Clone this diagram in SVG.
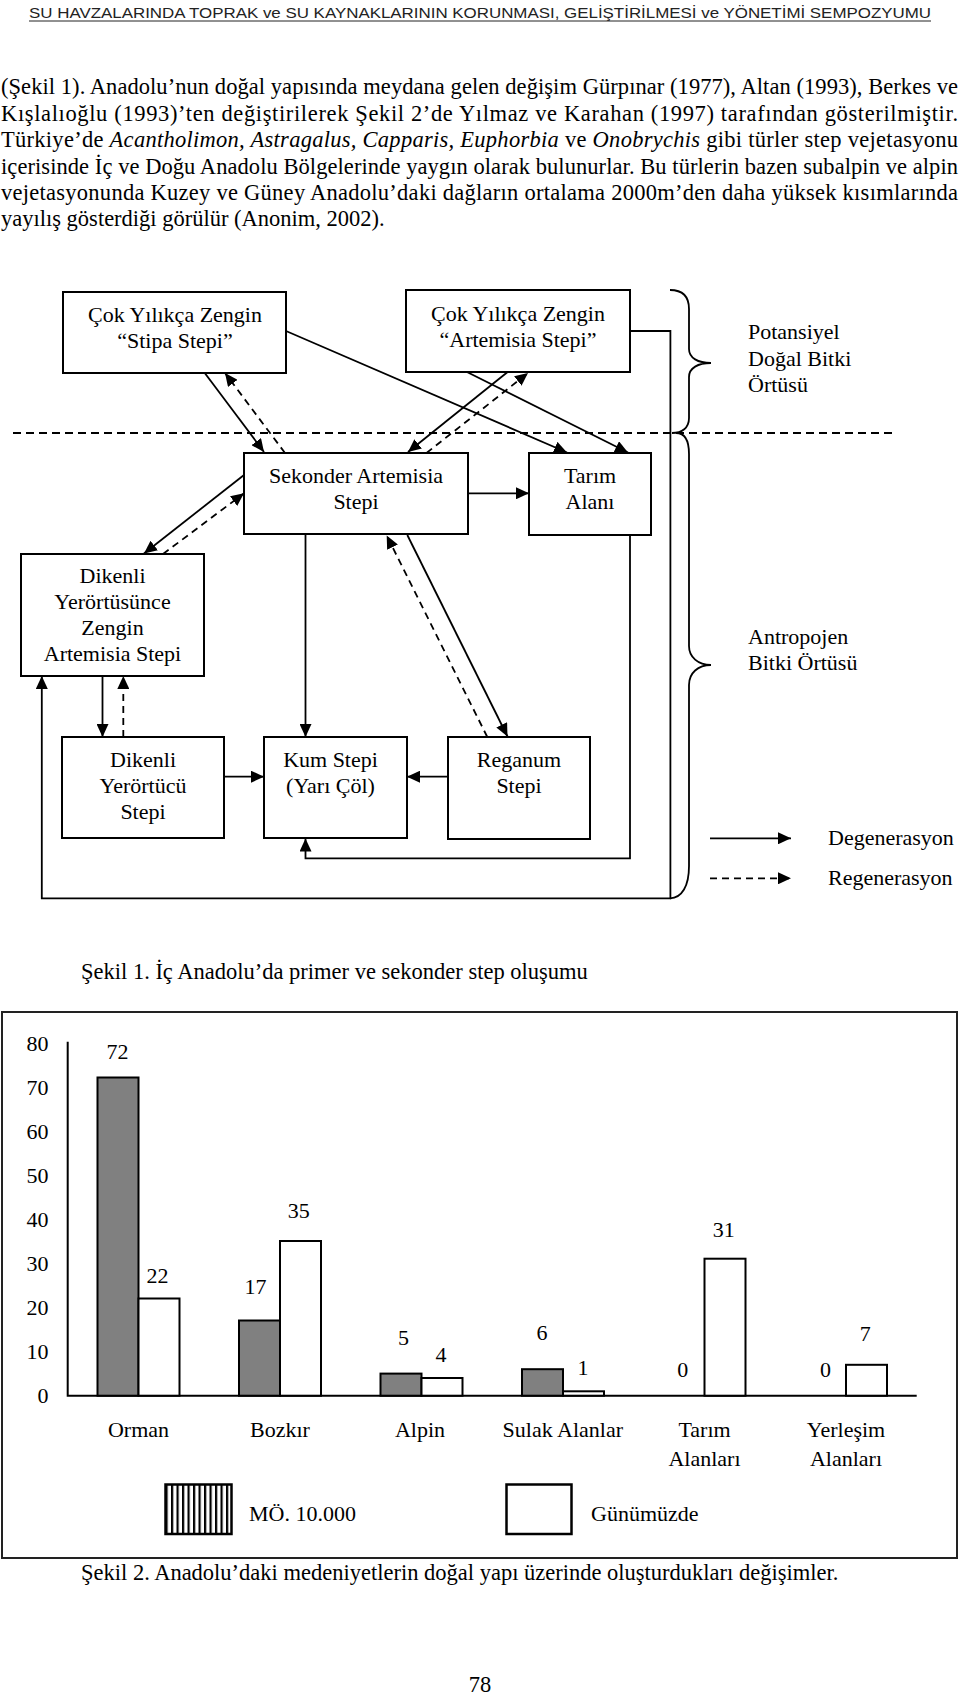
<svg xmlns="http://www.w3.org/2000/svg" width="960" height="1695" viewBox="0 0 960 1695">
<style>
  .body { font-family: "Liberation Serif", "Times New Roman", serif; font-size: 22.5px; fill: #000; }
  .t { font-family: "Liberation Serif", "Times New Roman", serif; font-size: 22px; fill: #000; text-anchor: middle; }
  .tl { font-family: "Liberation Serif", "Times New Roman", serif; font-size: 22px; fill: #000; }
  .bx { fill: #fff; stroke: #000; stroke-width: 2; }
  .ln { fill: none; stroke: #000; stroke-width: 1.8; }
  .ds { fill: none; stroke: #000; stroke-width: 1.8; stroke-dasharray: 7 5; }
  .bar1 { fill: #808080; stroke: #000; stroke-width: 2; }
  .bar2 { fill: #fff; stroke: #000; stroke-width: 2; }
  .ax { fill: none; stroke: #000; stroke-width: 2; }
  .num { font-family: "Liberation Serif", "Times New Roman", serif; font-size: 22px; fill: #000; text-anchor: middle; }
  .ynum { font-family: "Liberation Serif", "Times New Roman", serif; font-size: 22px; fill: #000; text-anchor: end; }
</style>
<defs>
  <marker id="ah" markerUnits="userSpaceOnUse" markerWidth="14" markerHeight="12" refX="13" refY="6" orient="auto">
    <path d="M0,0 L13,6 L0,12 z" fill="#000" stroke="none"/>
  </marker>
  <pattern id="hatch" patternUnits="userSpaceOnUse" x="165.5" y="0" width="5.5" height="10">
    <rect x="0" y="0" width="5.5" height="10" fill="#fff"/>
    <rect x="0" y="0" width="2.2" height="10" fill="#000"/>
  </pattern>
</defs>

<g id="header">
  <text x="29" y="17.5" font-family="Liberation Sans, Arial, sans-serif" font-size="14.5" fill="#222" textLength="902" lengthAdjust="spacingAndGlyphs">SU HAVZALARINDA TOPRAK ve SU KAYNAKLARININ KORUNMASI, GELİŞTİRİLMESİ ve YÖNETİMİ SEMPOZYUMU</text>
  <line x1="29" y1="21" x2="931" y2="21" stroke="#222" stroke-width="1"/>
</g>

<g id="paragraph">
  <text class="body" x="1" y="94" textLength="957" lengthAdjust="spacing">(Şekil 1). Anadolu’nun doğal yapısında meydana gelen değişim Gürpınar (1977), Altan (1993), Berkes ve</text>
  <text class="body" x="1" y="121" textLength="957" lengthAdjust="spacing">Kışlalıoğlu (1993)’ten değiştirilerek Şekil 2’de Yılmaz ve Karahan (1997) tarafından gösterilmiştir.</text>
  <text class="body" x="1" y="147" textLength="957" lengthAdjust="spacing">Türkiye’de <tspan font-style="italic">Acantholimon, Astragalus, Capparis, Euphorbia</tspan> ve <tspan font-style="italic">Onobrychis</tspan> gibi türler step vejetasyonu</text>
  <text class="body" x="1" y="173.5" textLength="957" lengthAdjust="spacing">içerisinde İç ve Doğu Anadolu Bölgelerinde yaygın olarak bulunurlar. Bu türlerin bazen subalpin ve alpin</text>
  <text class="body" x="1" y="200" textLength="957" lengthAdjust="spacing">vejetasyonunda Kuzey ve Güney Anadolu’daki dağların ortalama 2000m’den daha yüksek kısımlarında</text>
  <text class="body" x="1" y="226">yayılış gösterdiği görülür (Anonim, 2002).</text>
</g>

<g id="separator">
  <line x1="13" y1="433" x2="896" y2="433" stroke="#000" stroke-width="1.8" stroke-dasharray="8 5"/>
</g>

<g id="connectors">
  <line class="ln" x1="204" y1="372" x2="264" y2="452" marker-end="url(#ah)"/>
  <line class="ds" x1="285" y1="453" x2="225" y2="373" marker-end="url(#ah)"/>
  <line class="ln" x1="286" y1="331" x2="567" y2="452.5" marker-end="url(#ah)"/>
  <line class="ln" x1="507.6" y1="372" x2="408" y2="452" marker-end="url(#ah)"/>
  <line class="ds" x1="426.5" y1="453" x2="528" y2="373" marker-end="url(#ah)"/>
  <line class="ln" x1="467" y1="372" x2="628" y2="452.5" marker-end="url(#ah)"/>
  <line class="ln" x1="468" y1="493.3" x2="529" y2="493.3" marker-end="url(#ah)"/>
  <line class="ln" x1="244" y1="475" x2="144" y2="553.5" marker-end="url(#ah)"/>
  <line class="ds" x1="163" y1="554" x2="244" y2="493.3" marker-end="url(#ah)"/>
  <line class="ln" x1="102.5" y1="676" x2="102.5" y2="737" marker-end="url(#ah)"/>
  <line class="ds" x1="123.3" y1="737" x2="123.3" y2="676" marker-end="url(#ah)"/>
  <line class="ln" x1="305.5" y1="534" x2="305.5" y2="737" marker-end="url(#ah)"/>
  <line class="ln" x1="407.3" y1="535" x2="507.5" y2="736.5" marker-end="url(#ah)"/>
  <line class="ds" x1="487.3" y1="737" x2="386.7" y2="535.5" marker-end="url(#ah)"/>
  <line class="ln" x1="224" y1="776.7" x2="264" y2="776.7" marker-end="url(#ah)"/>
  <line class="ln" x1="448" y1="776.7" x2="407" y2="776.7" marker-end="url(#ah)"/>
  <polyline class="ln" points="630,535 630,858.3 305.5,858.3 305.5,838.5" marker-end="url(#ah)"/>
  <polyline class="ln" points="630,331 670.4,331 670.4,898.3 41.8,898.3 41.8,676" marker-end="url(#ah)"/>
</g>

<g id="braces">
  <path class="ln" d="M670,290 C683,290 689,296 689,309 L689,349 C689,358 698,363 711,363 C698,363 689,368 689,377 L689,418 C689,428 682,433 672,433"/>
  <path class="ln" d="M676,433 C685,433 689,441 689,454 L689,646 C689,657 698,665 711,665 C698,665 689,673 689,685 L689,866 C689,886 682,898 670,898.3"/>
</g>

<g id="n-stipa">
  <rect class="bx" x="63" y="292" width="223" height="81"/>
  <text class="t" x="175" y="321.5">Çok Yılıkça Zengin</text>
  <text class="t" x="175" y="347.5">“Stipa Stepi”</text>
</g>
<g id="n-artemisia">
  <rect class="bx" x="406" y="290" width="224" height="82"/>
  <text class="t" x="518" y="320.5">Çok Yılıkça Zengin</text>
  <text class="t" x="518" y="346.5">“Artemisia Stepi”</text>
</g>
<g id="n-sekonder">
  <rect class="bx" x="244" y="453" width="224" height="81"/>
  <text class="t" x="356" y="482.5">Sekonder Artemisia</text>
  <text class="t" x="356" y="508.5">Stepi</text>
</g>
<g id="n-tarim">
  <rect class="bx" x="529" y="453" width="122" height="82"/>
  <text class="t" x="590" y="483">Tarım</text>
  <text class="t" x="590" y="509">Alanı</text>
</g>
<g id="n-dikenli-zengin">
  <rect class="bx" x="21" y="554" width="183" height="122"/>
  <text class="t" x="112.5" y="583">Dikenli</text>
  <text class="t" x="112.5" y="609">Yerörtüsünce</text>
  <text class="t" x="112.5" y="635">Zengin</text>
  <text class="t" x="112.5" y="661">Artemisia Stepi</text>
</g>
<g id="n-dikenli-yerortucu">
  <rect class="bx" x="62" y="737" width="162" height="101"/>
  <text class="t" x="143" y="766.5">Dikenli</text>
  <text class="t" x="143" y="792.5">Yerörtücü</text>
  <text class="t" x="143" y="818.5">Stepi</text>
</g>
<g id="n-kum">
  <rect class="bx" x="264" y="737" width="143" height="101"/>
  <text class="t" x="330.5" y="766.5">Kum Stepi</text>
  <text class="t" x="330.5" y="792.5">(Yarı Çöl)</text>
</g>
<g id="n-reganum">
  <rect class="bx" x="448" y="737" width="142" height="102"/>
  <text class="t" x="519" y="766.5">Reganum</text>
  <text class="t" x="519" y="792.5">Stepi</text>
</g>

<g id="group-labels">
  <text class="tl" x="748" y="339">Potansiyel</text>
  <text class="tl" x="748" y="365.5">Doğal Bitki</text>
  <text class="tl" x="748" y="391.5">Örtüsü</text>
  <text class="tl" x="748" y="643.5">Antropojen</text>
  <text class="tl" x="748" y="670">Bitki Örtüsü</text>
</g>

<g id="legend1">
  <line class="ln" x1="710" y1="838.3" x2="791" y2="838.3" marker-end="url(#ah)"/>
  <line class="ds" x1="710" y1="878.3" x2="791" y2="878.3" marker-end="url(#ah)"/>
  <text class="tl" x="828" y="845">Degenerasyon</text>
  <text class="tl" x="828" y="884.5">Regenerasyon</text>
</g>

<text class="body" x="81" y="978.5">Şekil 1. İç Anadolu’da primer ve sekonder step oluşumu</text>

<g id="chart">
  <rect x="2" y="1012" width="955" height="546" fill="none" stroke="#222" stroke-width="2"/>
  <polyline class="ax" points="67.7,1041.7 67.7,1395.7 916.7,1395.7"/>
  <g id="yaxis-labels">
    <text class="ynum" x="48.5" y="1051">80</text>
    <text class="ynum" x="48.5" y="1095">70</text>
    <text class="ynum" x="48.5" y="1139">60</text>
    <text class="ynum" x="48.5" y="1183">50</text>
    <text class="ynum" x="48.5" y="1227">40</text>
    <text class="ynum" x="48.5" y="1271">30</text>
    <text class="ynum" x="48.5" y="1315">20</text>
    <text class="ynum" x="48.5" y="1359">10</text>
    <text class="ynum" x="48.5" y="1403">0</text>
  </g>
  <g id="bars">
    <rect class="bar1" x="97.5" y="1077.5" width="41" height="318.2"/>
    <rect class="bar2" x="138.5" y="1298.5" width="41" height="97.2"/>
    <rect class="bar1" x="239" y="1320.5" width="41" height="75.2"/>
    <rect class="bar2" x="280" y="1241" width="41" height="154.7"/>
    <rect class="bar1" x="380.5" y="1373.6" width="41" height="22.1"/>
    <rect class="bar2" x="421.5" y="1378" width="41" height="17.7"/>
    <rect class="bar1" x="522" y="1369.2" width="41" height="26.5"/>
    <rect class="bar2" x="563" y="1391.3" width="41" height="4.4"/>
    <rect class="bar2" x="704.5" y="1258.7" width="41" height="137"/>
    <rect class="bar2" x="846" y="1364.8" width="41" height="30.9"/>
  </g>
  <g id="bar-values">
    <text class="num" x="117.6" y="1059">72</text>
    <text class="num" x="157.4" y="1282.5">22</text>
    <text class="num" x="255.4" y="1294">17</text>
    <text class="num" x="298.8" y="1218">35</text>
    <text class="num" x="403.5" y="1344.7">5</text>
    <text class="num" x="440.9" y="1362.4">4</text>
    <text class="num" x="542" y="1340">6</text>
    <text class="num" x="583" y="1374.7">1</text>
    <text class="num" x="682.8" y="1377.4">0</text>
    <text class="num" x="723.8" y="1236.7">31</text>
    <text class="num" x="825.5" y="1377.4">0</text>
    <text class="num" x="865.3" y="1340.7">7</text>
  </g>
  <g id="categories">
    <text class="num" x="138.5" y="1436.5">Orman</text>
    <text class="num" x="280" y="1436.5">Bozkır</text>
    <text class="num" x="420" y="1436.5">Alpin</text>
    <text class="num" x="562.8" y="1436.5">Sulak Alanlar</text>
    <text class="num" x="704.5" y="1436.5">Tarım</text>
    <text class="num" x="704.5" y="1465.5">Alanları</text>
    <text class="num" x="846" y="1436.5">Yerleşim</text>
    <text class="num" x="846" y="1465.5">Alanları</text>
  </g>
  <g id="chart-legend">
    <rect x="165.5" y="1484.5" width="66" height="49.5" fill="url(#hatch)" stroke="#000" stroke-width="2.5"/>
    <text class="tl" x="249" y="1521">MÖ. 10.000</text>
    <rect x="506.5" y="1484.5" width="65" height="49.5" fill="#fff" stroke="#000" stroke-width="2.5"/>
    <text class="tl" x="591" y="1521">Günümüzde</text>
  </g>
</g>

<text class="body" x="81" y="1579.5">Şekil 2. Anadolu’daki medeniyetlerin doğal yapı üzerinde oluşturdukları değişimler.</text>
<text class="body" x="480" y="1692" text-anchor="middle">78</text>
</svg>
